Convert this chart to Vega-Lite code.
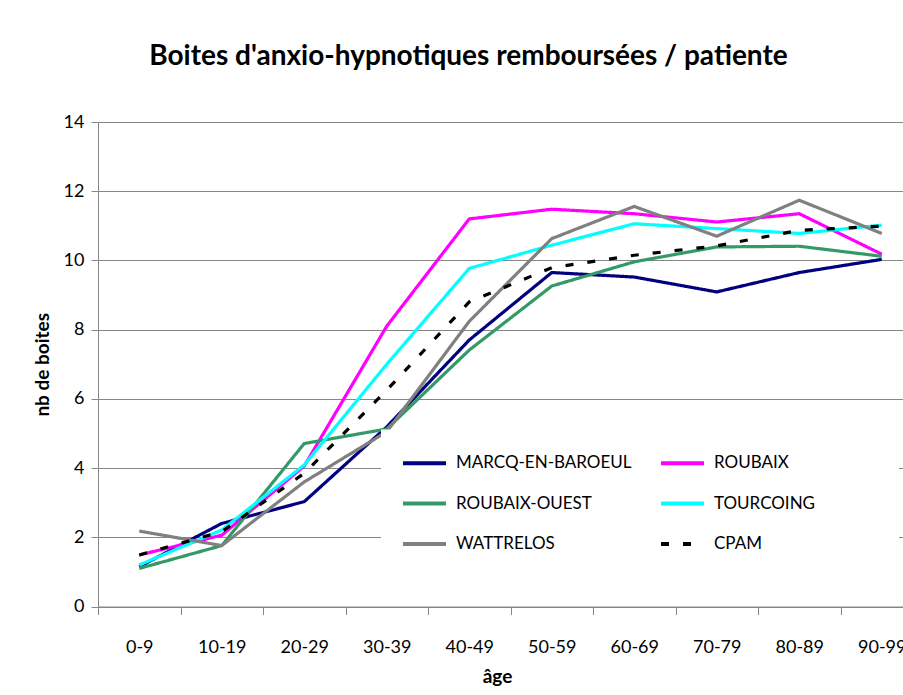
{
  "$schema": "https://vega.github.io/schema/vega-lite/v6.json",
  "width": 805,
  "height": 484.5,
  "autosize": {"type": "none"},
  "padding": {"left": 98, "top": 122, "right": 0, "bottom": 88.5},
  "background": "white",
  "title": {
    "text": "Boites d'anxio-hypnotiques remboursées / patiente",
    "font": "Lato", "fontSize": 28, "fontWeight": "bold", "color": "black",
    "anchor": "middle", "frame": "group", "dx": -32, "offset": 42
  },
  "data": {
    "values": [
      {"serie": "MARCQ-EN-BAROEUL", "age": "0-9", "boites": 1.15},
      {"serie": "MARCQ-EN-BAROEUL", "age": "10-19", "boites": 2.40},
      {"serie": "MARCQ-EN-BAROEUL", "age": "20-29", "boites": 3.03},
      {"serie": "MARCQ-EN-BAROEUL", "age": "30-39", "boites": 5.19},
      {"serie": "MARCQ-EN-BAROEUL", "age": "40-49", "boites": 7.70},
      {"serie": "MARCQ-EN-BAROEUL", "age": "50-59", "boites": 9.65},
      {"serie": "MARCQ-EN-BAROEUL", "age": "60-69", "boites": 9.52},
      {"serie": "MARCQ-EN-BAROEUL", "age": "70-79", "boites": 9.09},
      {"serie": "MARCQ-EN-BAROEUL", "age": "80-89", "boites": 9.65},
      {"serie": "MARCQ-EN-BAROEUL", "age": "90-99", "boites": 10.03},
      {"serie": "ROUBAIX", "age": "0-9", "boites": 1.49},
      {"serie": "ROUBAIX", "age": "10-19", "boites": 2.06},
      {"serie": "ROUBAIX", "age": "20-29", "boites": 4.06},
      {"serie": "ROUBAIX", "age": "30-39", "boites": 8.10},
      {"serie": "ROUBAIX", "age": "40-49", "boites": 11.20},
      {"serie": "ROUBAIX", "age": "50-59", "boites": 11.48},
      {"serie": "ROUBAIX", "age": "60-69", "boites": 11.35},
      {"serie": "ROUBAIX", "age": "70-79", "boites": 11.11},
      {"serie": "ROUBAIX", "age": "80-89", "boites": 11.35},
      {"serie": "ROUBAIX", "age": "90-99", "boites": 10.18},
      {"serie": "ROUBAIX-OUEST", "age": "0-9", "boites": 1.10},
      {"serie": "ROUBAIX-OUEST", "age": "10-19", "boites": 1.76},
      {"serie": "ROUBAIX-OUEST", "age": "20-29", "boites": 4.71},
      {"serie": "ROUBAIX-OUEST", "age": "30-39", "boites": 5.13},
      {"serie": "ROUBAIX-OUEST", "age": "40-49", "boites": 7.41},
      {"serie": "ROUBAIX-OUEST", "age": "50-59", "boites": 9.26},
      {"serie": "ROUBAIX-OUEST", "age": "60-69", "boites": 9.96},
      {"serie": "ROUBAIX-OUEST", "age": "70-79", "boites": 10.39},
      {"serie": "ROUBAIX-OUEST", "age": "80-89", "boites": 10.41},
      {"serie": "ROUBAIX-OUEST", "age": "90-99", "boites": 10.12},
      {"serie": "TOURCOING", "age": "0-9", "boites": 1.20},
      {"serie": "TOURCOING", "age": "10-19", "boites": 2.21},
      {"serie": "TOURCOING", "age": "20-29", "boites": 4.09},
      {"serie": "TOURCOING", "age": "30-39", "boites": 7.00},
      {"serie": "TOURCOING", "age": "40-49", "boites": 9.77},
      {"serie": "TOURCOING", "age": "50-59", "boites": 10.44},
      {"serie": "TOURCOING", "age": "60-69", "boites": 11.06},
      {"serie": "TOURCOING", "age": "70-79", "boites": 10.92},
      {"serie": "TOURCOING", "age": "80-89", "boites": 10.78},
      {"serie": "TOURCOING", "age": "90-99", "boites": 11.02},
      {"serie": "WATTRELOS", "age": "0-9", "boites": 2.18},
      {"serie": "WATTRELOS", "age": "10-19", "boites": 1.76},
      {"serie": "WATTRELOS", "age": "20-29", "boites": 3.60},
      {"serie": "WATTRELOS", "age": "30-39", "boites": 5.05},
      {"serie": "WATTRELOS", "age": "40-49", "boites": 8.24},
      {"serie": "WATTRELOS", "age": "50-59", "boites": 10.63},
      {"serie": "WATTRELOS", "age": "60-69", "boites": 11.56},
      {"serie": "WATTRELOS", "age": "70-79", "boites": 10.70},
      {"serie": "WATTRELOS", "age": "80-89", "boites": 11.74},
      {"serie": "WATTRELOS", "age": "90-99", "boites": 10.78},
      {"serie": "CPAM", "age": "0-9", "boites": 1.49},
      {"serie": "CPAM", "age": "10-19", "boites": 2.16},
      {"serie": "CPAM", "age": "20-29", "boites": 3.85},
      {"serie": "CPAM", "age": "30-39", "boites": 6.25},
      {"serie": "CPAM", "age": "40-49", "boites": 8.80},
      {"serie": "CPAM", "age": "50-59", "boites": 9.79},
      {"serie": "CPAM", "age": "60-69", "boites": 10.15},
      {"serie": "CPAM", "age": "70-79", "boites": 10.42},
      {"serie": "CPAM", "age": "80-89", "boites": 10.87},
      {"serie": "CPAM", "age": "90-99", "boites": 10.99}
    ]
  },
  "mark": {"type": "line", "strokeWidth": 3.2},
  "encoding": {
    "x": {
      "field": "age", "type": "nominal",
      "sort": ["0-9", "10-19", "20-29", "30-39", "40-49", "50-59", "60-69", "70-79", "80-89", "90-99"],
      "bandPosition": 0.5,
      "scale": {"type": "band", "range": [0, 825], "paddingInner": 0, "paddingOuter": 0},
      "axis": {
        "title": "âge", "titleFont": "Lato", "titleFontSize": 19, "titleFontWeight": "bold", "titleColor": "black",
        "titlePadding": 11, "titleX": 399,
        "labelFont": "Lato", "labelFontSize": 18, "labelColor": "black", "labelAngle": 0, "labelPadding": 24,
        "tickBand": "extent", "tickSize": 8, "tickColor": "#868686", "domainColor": "#868686",
        "grid": false
      }
    },
    "y": {
      "field": "boites", "type": "quantitative",
      "scale": {"domain": [0, 14], "nice": false},
      "axis": {
        "title": "nb de boites", "titleFont": "Lato", "titleFontSize": 19, "titleFontWeight": "bold", "titleColor": "black",
        "titlePadding": 11,
        "values": [0, 2, 4, 6, 8, 10, 12, 14],
        "labelFont": "Lato", "labelFontSize": 18, "labelColor": "black", "labelPadding": 7,
        "tickSize": 7, "tickColor": "#868686", "domainColor": "#868686",
        "grid": true, "gridColor": "#868686"
      }
    },
    "color": {
      "field": "serie", "type": "nominal",
      "scale": {
        "domain": ["MARCQ-EN-BAROEUL", "ROUBAIX-OUEST", "WATTRELOS", "ROUBAIX", "TOURCOING", "CPAM"],
        "range": ["#000080", "#339966", "#808080", "#FF00FF", "#00FFFF", "#000000"]
      },
      "legend": {"title": "\u00a0"}
    },
    "strokeDash": {
      "field": "serie", "type": "nominal",
      "scale": {
        "domain": ["MARCQ-EN-BAROEUL", "ROUBAIX-OUEST", "WATTRELOS", "ROUBAIX", "TOURCOING", "CPAM"],
        "range": [[1, 0], [1, 0], [1, 0], [1, 0], [1, 0], [8, 14]]
      },
      "legend": {"title": "\u00a0"}
    }
  },
  "config": {
    "view": {"stroke": null},
    "legend": {
      "orient": "none", "legendX": 283, "legendY": 307.5,
      "columns": 2, "columnPadding": 17, "rowPadding": 8.5,
      "fillColor": "white", "padding": 10, "symbolOffset": 10,
      "symbolType": "stroke", "symbolSize": 1849, "symbolStrokeWidth": 4,
      "labelFont": "Lato", "labelFontSize": 17, "labelColor": "black", "labelOffset": 8, "labelLimit": 400,
      "titleOrient": "right", "titleFontSize": 2, "titlePadding": 74
    }
  }
}
